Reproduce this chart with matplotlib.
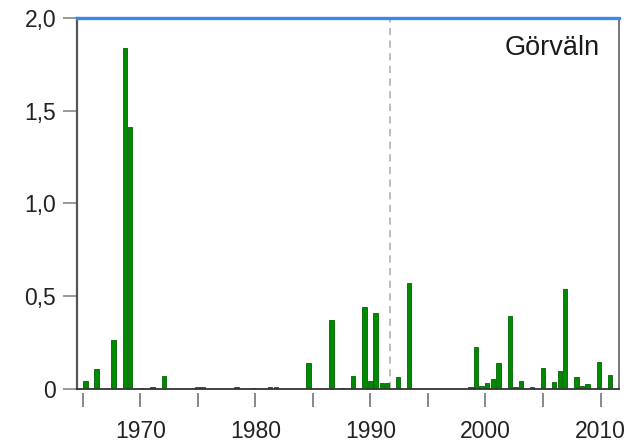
import matplotlib
matplotlib.use("Agg")
import matplotlib.pyplot as plt
from matplotlib.ticker import FixedLocator

plt.rcParams['font.family'] = ['Liberation Sans', 'DejaVu Sans']

# Event positions (decimal year) and values
years = [1965.23, 1966.2, 1967.66, 1968.67, 1969.1, 1970.06, 1971.08, 1972.06,
         1974.96, 1975.43, 1978.38, 1979.88, 1981.27, 1981.8, 1984.63, 1986.63,
         1987.59, 1988.5, 1989.5, 1990.0, 1990.45, 1991.0, 1991.46, 1992.4,
         1993.37, 1998.65, 1998.9, 1999.17, 1999.67, 2000.15, 2000.67, 2001.14,
         2002.12, 2002.6, 2003.1, 2004.06, 2005.0, 2005.97, 2006.47, 2006.93,
         2007.92, 2008.4, 2008.87, 2009.88, 2010.84]
values = [0.045, 0.11, 0.264, 1.84, 1.414, 0.004, 0.012, 0.072,
          0.013, 0.013, 0.013, 0.004, 0.01, 0.01, 0.138, 0.373,
          0.006, 0.072, 0.44, 0.045, 0.41, 0.034, 0.034, 0.066,
          0.573, 0.012, 0.01, 0.225, 0.016, 0.034, 0.056, 0.138,
          0.395, 0.01, 0.045, 0.012, 0.115, 0.036, 0.099, 0.539,
          0.066, 0.016, 0.025, 0.144, 0.075]

limit_value = 2.0
marker_year = 1991.7
station = "Görväln"

ytick_vals = [0, 0.5, 1.0, 1.5, 2.0]
ytick_labels = ["0", "0,5", "1,0", "1,5", "2,0"]
xmajor = [1970, 1980, 1990, 2000, 2010]
xminor = [1965, 1975, 1985, 1995, 2005]

fig = plt.figure(figsize=(6.28, 4.47), dpi=100)
ax = fig.add_axes([0.1226, 0.1298, 0.985 - 0.1226, 0.9597 - 0.1298])

ax.bar(years, values, width=0.40, color='#008a00', edgecolor='#006400',
       linewidth=0.6, zorder=3)

ax.set_xlim(1964.5, 2011.57)
ax.set_ylim(0, 2.0)

# blue limit line at top
ax.axhline(limit_value, color='#3b86f0', lw=2.4, clip_on=False, zorder=5)
# dashed marker line
ax.axvline(marker_year, color='#b8b8b8', lw=1.3, ls=(0, (4, 3)), zorder=2)
# zero baseline
ax.axhline(0, color='#333333', lw=1.3, zorder=4, clip_on=False)

ax.spines['top'].set_visible(False)
ax.spines['left'].set_color('#555555')
ax.spines['left'].set_linewidth(1.6)
ax.spines['right'].set_color('#777777')
ax.spines['right'].set_linewidth(1.4)
ax.spines['bottom'].set_position(('outward', 3))
ax.spines['bottom'].set_visible(False)

ax.set_yticks(ytick_vals)
ax.set_yticklabels(ytick_labels)
ax.tick_params(axis='y', direction='out', length=10, width=1.4, color='#999999',
               labelsize=16.5, labelcolor='#222222', pad=5)

ax.xaxis.set_major_locator(FixedLocator(xmajor))
ax.xaxis.set_minor_locator(FixedLocator(xminor))
ax.set_xticklabels([str(v) for v in xmajor])
ax.tick_params(axis='x', which='major', direction='out', length=10, width=1.4,
               color='#888888', labelsize=16.5, labelcolor='#222222', pad=9)
ax.tick_params(axis='x', which='minor', direction='out', length=10, width=1.4,
               color='#888888')

ax.text(0.966, 0.92, station, transform=ax.transAxes, ha='right', va='center',
        fontsize=19.5, color='#1a1a1a')

fig.savefig('out.png', dpi=100)
